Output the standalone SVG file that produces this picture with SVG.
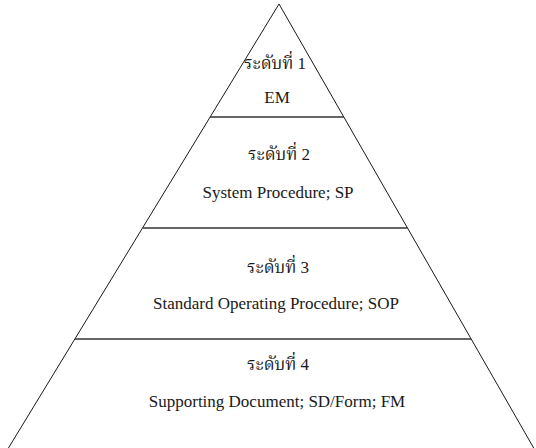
<svg xmlns="http://www.w3.org/2000/svg" width="536" height="448" viewBox="0 0 536 448">
  <style>
    .edge { fill: none; stroke: #1a1a1a; stroke-width: 1; }
    .divider { stroke: #333; stroke-width: 1.6; }
    .label { font-family: "Liberation Serif", "Noto Serif Thai", "Noto Sans Thai", serif; font-size: 17px; fill: #1a1a1a; text-anchor: middle; }
  </style>
  <rect width="536" height="448" fill="#ffffff"/>

  <!-- pyramid outline -->
  <g id="outline">
    <polyline class="edge" points="6,452 279,4 536,452"/>
  </g>

  <!-- level dividers -->
  <g id="dividers">
    <line class="divider" x1="210" y1="117" x2="344" y2="117"/>
    <line class="divider" x1="143" y1="228" x2="407.5" y2="228"/>
    <line class="divider" x1="75" y1="339" x2="471" y2="339"/>
  </g>

  <g id="level-1">
    <text class="label" x="275" y="69">ระดับที่ 1</text>
    <text class="label" x="277" y="103">EM</text>
  </g>

  <g id="level-2">
    <text class="label" x="279" y="160">ระดับที่ 2</text>
    <text class="label" x="278" y="198">System Procedure; SP</text>
  </g>

  <g id="level-3">
    <text class="label" x="278" y="273">ระดับที่ 3</text>
    <text class="label" x="276" y="309">Standard Operating Procedure; SOP</text>
  </g>

  <g id="level-4">
    <text class="label" x="278" y="370">ระดับที่ 4</text>
    <text class="label" x="277" y="407">Supporting Document; SD/Form; FM</text>
  </g>
</svg>
